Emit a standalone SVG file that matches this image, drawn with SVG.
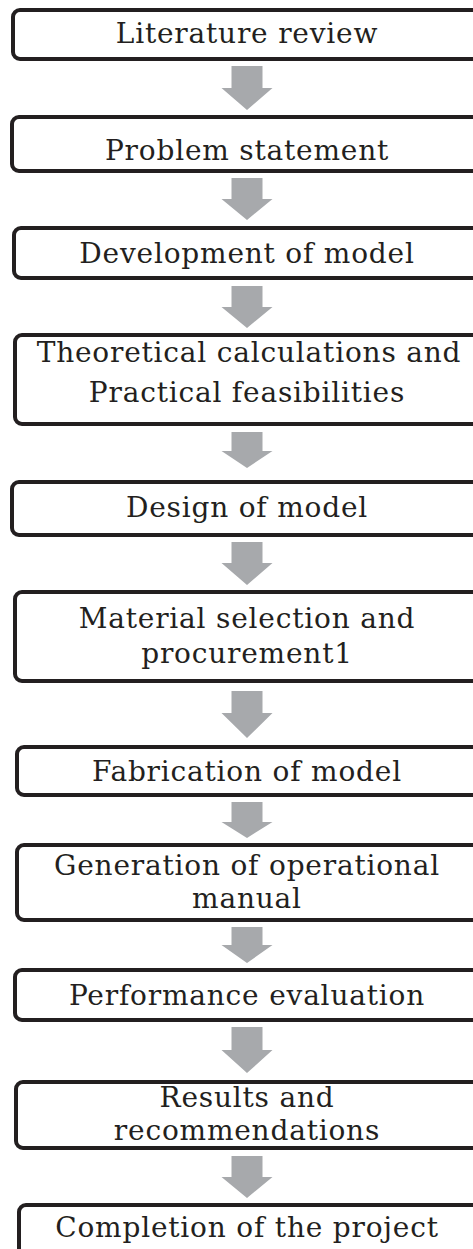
<svg xmlns="http://www.w3.org/2000/svg" width="473" height="1249" viewBox="0 0 473 1249">
<style>
.box{fill:#fff;stroke:#231f20;stroke-width:4}
.arr{fill:#a7a9ac}
text{font-family:"DejaVu Serif","Liberation Serif",serif;font-size:28px;letter-spacing:0.8px;fill:#231f20;text-anchor:middle}
</style>
<rect width="473" height="1249" fill="#fff"/>
<g id="connectors">
<path class="arr" d="M231.5 66H262.5V88H272.5L247 110L221.5 88H231.5Z"/>
<path class="arr" d="M231.5 178H262.5V199H272.5L247 220L221.5 199H231.5Z"/>
<path class="arr" d="M231.5 286H262.5V307H272.5L247 328L221.5 307H231.5Z"/>
<path class="arr" d="M231.5 432H262.5V451H272.5L247 468L221.5 451H231.5Z"/>
<path class="arr" d="M231.5 542H262.5V563H272.5L247 585L221.5 563H231.5Z"/>
<path class="arr" d="M231.5 691H262.5V713H272.5L247 738L221.5 713H231.5Z"/>
<path class="arr" d="M231.5 802H262.5V822H272.5L247 838L221.5 822H231.5Z"/>
<path class="arr" d="M231.5 927H262.5V945H272.5L247 963L221.5 945H231.5Z"/>
<path class="arr" d="M231.5 1027H262.5V1050H272.5L247 1073L221.5 1050H231.5Z"/>
<path class="arr" d="M231.5 1156H262.5V1177H272.5L247 1198L221.5 1177H231.5Z"/>
</g>
<g id="n1"><rect class="box" x="13" y="10" width="480" height="49" rx="7"/><text x="247" y="43">Literature review</text></g>
<g id="n2"><rect class="box" x="12" y="117" width="480" height="54" rx="7"/><text x="247" y="160">Problem statement</text></g>
<g id="n3"><rect class="box" x="14" y="228" width="480" height="50" rx="7"/><text x="247" y="263">Development of model</text></g>
<g id="n4"><rect class="box" x="15" y="335" width="480" height="89" rx="7"/><text x="249" y="362">Theoretical calculations and</text><text x="247" y="402">Practical feasibilities</text></g>
<g id="n5"><rect class="box" x="12" y="482" width="480" height="53" rx="7"/><text x="247" y="517">Design of model</text></g>
<g id="n6"><rect class="box" x="15" y="592" width="480" height="89" rx="7"/><text x="247" y="628">Material selection and</text><text x="247" y="663">procurement1</text></g>
<g id="n7"><rect class="box" x="17" y="747" width="480" height="48" rx="7"/><text x="247" y="781">Fabrication of model</text></g>
<g id="n8"><rect class="box" x="17" y="845" width="480" height="75" rx="7"/><text x="247" y="875">Generation of operational</text><text x="247" y="908">manual</text></g>
<g id="n9"><rect class="box" x="15" y="970" width="480" height="50" rx="7"/><text x="247" y="1005">Performance evaluation</text></g>
<g id="n10"><rect class="box" x="16" y="1082" width="480" height="66" rx="7"/><text x="247" y="1107">Results and</text><text x="247" y="1140">recommendations</text></g>
<g id="n11"><rect class="box" x="19" y="1205" width="480" height="60" rx="7"/><text x="247" y="1237">Completion of the project</text></g>
</svg>
